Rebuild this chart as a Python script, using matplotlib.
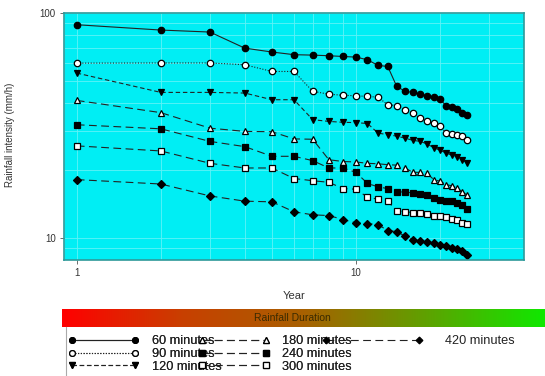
import numpy as np
import matplotlib
matplotlib.use("Agg")
import matplotlib.pyplot as plt
from matplotlib.colors import LinearSegmentedColormap
from matplotlib.ticker import FixedLocator, NullFormatter, LogLocator

plt.rcParams['font.family'] = ['Liberation Sans', 'DejaVu Sans']

years = list(range(1, 26))
labels = ["60 minutes", "90 minutes", "120 minutes", "180 minutes",
          "240 minutes", "300 minutes", "420 minutes"]

min60 = [88.7, 84.0, 82.3, 69.8, 67.1, 65.3, 65.0, 64.6, 64.1, 63.7, 62.0, 58.5, 57.9,
         47.2, 44.9, 44.4, 43.7, 42.9, 42.3, 41.5, 38.8, 38.3, 37.6, 35.9, 35.4]
min90 = [59.9, 60.0, 60.0, 58.9, 55.0, 55.0, 44.9, 43.6, 43.1, 42.9, 42.6, 42.3, 39.1,
         38.8, 37.2, 35.9, 34.1, 33.0, 32.6, 31.6, 29.3, 29.1, 28.8, 28.5, 27.4]
min120 = [54.1, 44.4, 44.4, 44.1, 41.2, 41.2, 33.6, 33.0, 32.7, 32.6, 32.3, 29.3, 28.8,
          28.4, 27.8, 27.2, 26.9, 26.2, 25.2, 24.6, 23.9, 23.4, 23.0, 22.2, 21.5]
min180 = [40.9, 36.1, 30.8, 29.8, 29.7, 27.6, 27.5, 22.3, 21.9, 21.8, 21.5, 21.4, 21.2,
          21.1, 20.5, 19.6, 19.6, 19.4, 18.2, 17.9, 17.3, 17.1, 16.7, 16.1, 15.6]
min240 = [31.9, 30.6, 26.9, 25.5, 23.1, 23.1, 22.1, 20.5, 20.5, 19.6, 17.5, 16.9, 16.6,
          16.1, 16.0, 15.9, 15.7, 15.6, 15.1, 14.8, 14.7, 14.6, 14.4, 14.1, 13.5]
min300 = [25.7, 24.4, 21.5, 20.5, 20.5, 18.4, 18.0, 17.7, 16.6, 16.5, 15.2, 14.9, 14.6,
          13.2, 13.1, 13.0, 12.9, 12.8, 12.6, 12.5, 12.4, 12.2, 12.1, 11.7, 11.6]
min420 = [18.2, 17.4, 15.4, 14.6, 14.5, 13.1, 12.7, 12.6, 12.1, 11.7, 11.6, 11.5, 10.8,
          10.7, 10.2, 9.8, 9.7, 9.6, 9.5, 9.3, 9.2, 9.0, 8.95, 8.8, 8.4]

series = [min60, min90, min120, min180, min240, min300, min420]
markers = ['o', 'o', 'v', '^', 's', 's', 'D']
faces = ['black', 'white', 'black', 'white', 'black', 'white', 'black']
sizes = [4.6, 4.6, 4.8, 4.6, 4.2, 4.2, 3.8]
styles = ['-', (0, (1, 1.5)), (0, (4, 2.5)), (0, (7, 4)), (0, (7, 4)), (0, (7, 4)), (0, (7, 4))]

fig = plt.figure(figsize=(5.45, 3.76), dpi=100)
ax = fig.add_axes([64/545, 1-260/376, (524-64)/545, (260-13)/376])
ax.set_facecolor('#00EEF4')
for sp in ax.spines.values():
    sp.set_color('#2E9A9A')
    sp.set_linewidth(1.2)

handles = []
for vals, m, fc, ms, ls, lab in zip(series, markers, faces, sizes, styles, labels):
    h, = ax.plot(years, vals, linestyle=ls, color='#222222', linewidth=0.8,
                 marker=m, markerfacecolor=fc, markeredgecolor='black',
                 markeredgewidth=0.9, markersize=ms, label=lab)
    handles.append(h)

ax.set_xscale('log')
ax.set_yscale('log')
ax.set_xlim(0.9, 40)
ax.set_ylim(8, 100)
ax.xaxis.set_major_locator(FixedLocator([1, 10]))
ax.xaxis.set_major_formatter(matplotlib.ticker.FixedFormatter(['1', '10']))
ax.yaxis.set_major_locator(FixedLocator([10, 100]))
ax.yaxis.set_major_formatter(matplotlib.ticker.FixedFormatter(['10', '100']))
ax.xaxis.set_minor_locator(LogLocator(base=10, subs=np.arange(2, 10)))
ax.yaxis.set_minor_locator(LogLocator(base=10, subs=np.arange(2, 10)))
ax.xaxis.set_minor_formatter(NullFormatter())
ax.yaxis.set_minor_formatter(NullFormatter())
ax.tick_params(which='minor', length=0)
ax.tick_params(which='major', length=3, width=0.6, color='#555555',
               labelsize=7, labelcolor='#333333', pad=3)
ax.grid(which='both', color='#60F2F7', linewidth=0.6)
ax.set_axisbelow(True)

ax.set_xlabel('Year', fontsize=8, color='#333333', labelpad=9)
fig.text(10/545, 1-135/376, 'Rainfall intensity (mm/h)', rotation=90, fontsize=7,
         color='#333333', ha='center', va='center')

# gradient bar
cmap = LinearSegmentedColormap.from_list('rg', ['#FF0000', '#C84000', '#A86000', '#60A000', '#10E800'])
bax = fig.add_axes([62/545, 1-327/376, (545-62)/545, 18/376])
bax.imshow(np.linspace(0, 1, 256)[None, :], aspect='auto', cmap=cmap, extent=[0, 1, 0, 1])
bax.set_xticks([]); bax.set_yticks([])
for sp in bax.spines.values():
    sp.set_visible(False)
bax.text(0.476, 0.5, 'Rainfall Duration', ha='center', va='center', fontsize=7.5, color='#3a2a00')

# legend outline
fig.add_artist(plt.Line2D([66/545, 66/545], [0, 1-327/376], color='#aaaaaa', linewidth=0.8))

leg_kw = dict(loc='upper left', frameon=False, fontsize=9.2, labelspacing=0.05,
              borderaxespad=0, borderpad=0, numpoints=2, labelcolor='#222222',
              markerscale=0.9)
leg1 = fig.legend(handles=handles[:6], labels=labels[:6],
                  bbox_to_anchor=(68/545, 1-335.5/376),
                  ncol=2, handlelength=5.55, handletextpad=1.0,
                  columnspacing=-1.8, **leg_kw)
leg2 = fig.legend(handles=handles[6:], labels=labels[6:],
                  bbox_to_anchor=(322/545, 1-335.5/376),
                  ncol=1, handlelength=7.9, handletextpad=1.7, **leg_kw)
fig.add_artist(leg1)

fig.savefig('out.png', dpi=100)
